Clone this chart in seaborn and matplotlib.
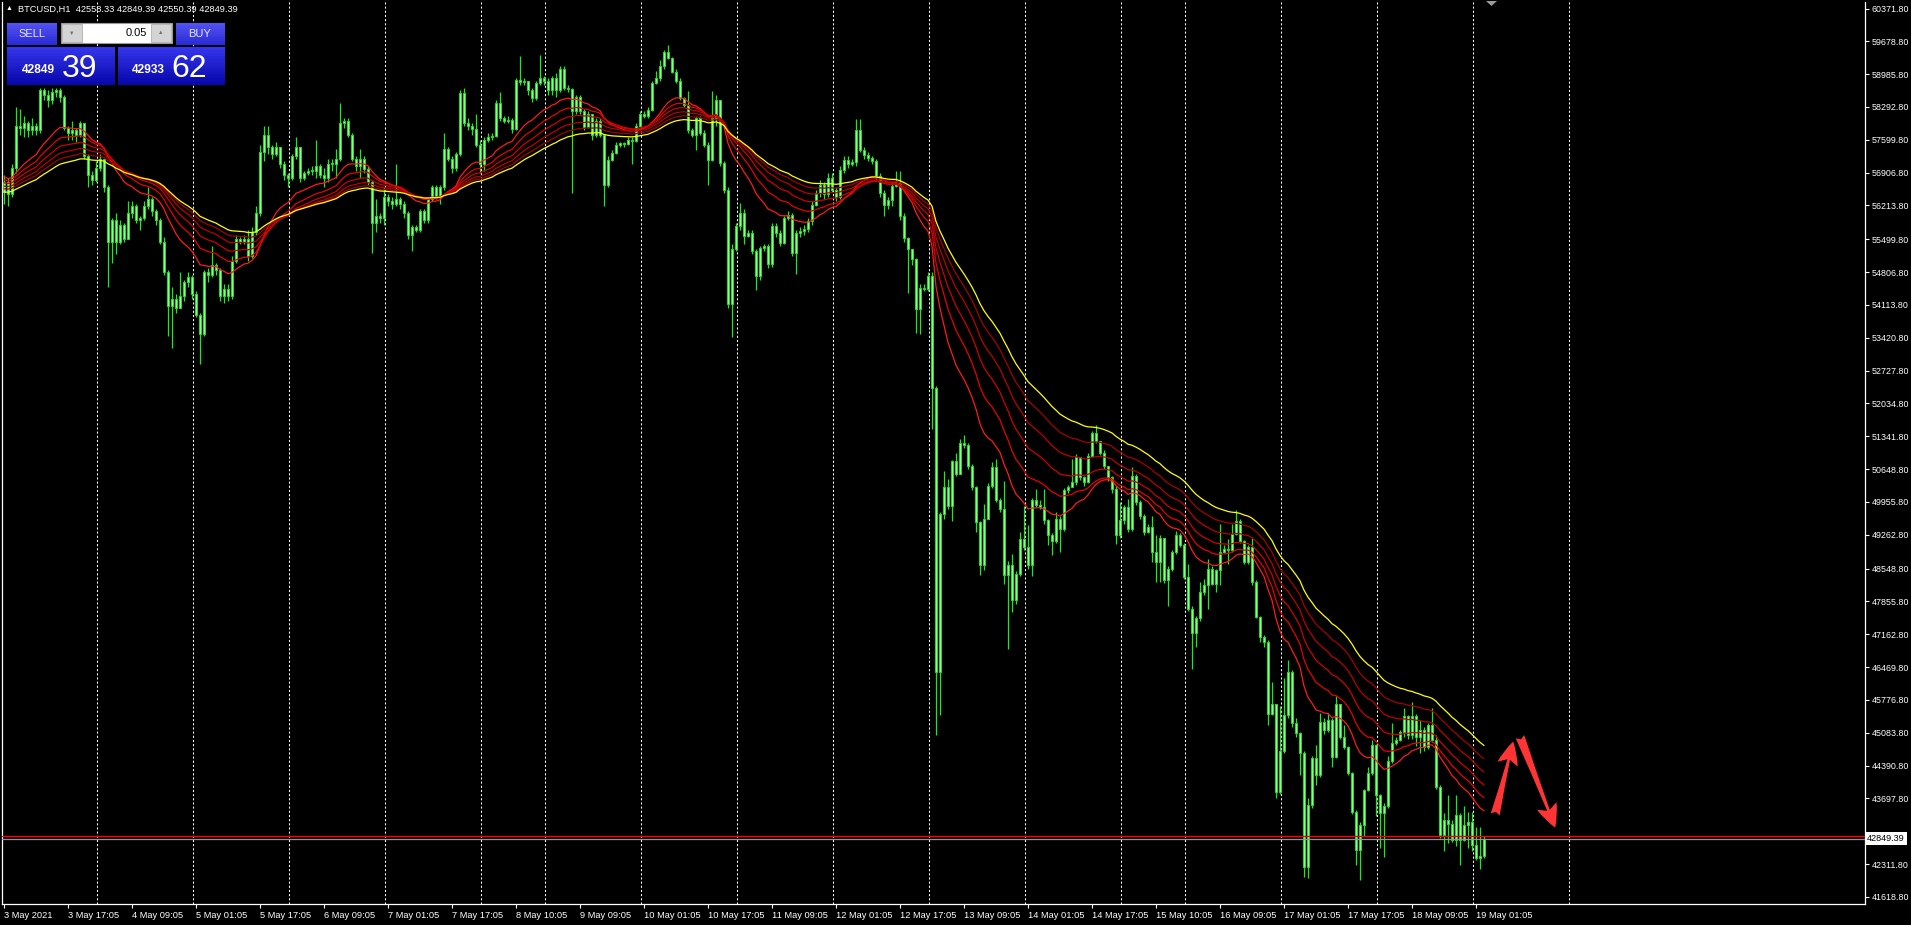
import numpy as np
import pandas as pd
import matplotlib
matplotlib.use("Agg")
import matplotlib.pyplot as plt
import matplotlib.transforms as mtransforms
import seaborn as sns
from matplotlib.patches import Rectangle, Polygon

# BTCUSD H1, 3 May 2021 -> 19 May 2021, one value per hourly bar
first_open = 56500

close = [
    56700, 56450, 57000, 57900, 57850, 57950, 57800, 57900, 57800, 58650,
    58550, 58450, 58600, 58650, 58500, 57850, 57750, 57800, 57700, 57950,
    57250, 56850, 56750, 57000, 57200, 56600, 55450, 55900, 55450, 55800,
    55500, 56050, 56200, 55900, 55950, 56200, 56350, 56100, 55900, 55450,
    54800, 54100, 54250, 54050, 54300, 54600, 54700, 54350, 53900, 53500,
    54800, 54750, 54950, 54850, 54300, 54450, 54300, 55050, 55500, 55450,
    55500, 55150, 55650, 56050, 57350, 57700, 57450, 57300, 57450, 57100,
    56850, 56800, 57250, 57450, 56800, 56900, 56950, 56950, 57050, 56850,
    56800, 57100, 57100, 57200, 57950, 58000, 57700, 57200, 57050, 57200,
    56980, 56700, 55850, 56000, 55950, 56400, 56300, 56250, 56350, 56250,
    56050, 55600, 55750, 55700, 56100, 55900, 56350, 56600, 56400, 56600,
    57400, 57200, 57000, 57300, 58580, 57950, 57900, 57820, 57500, 57080,
    57600, 57650, 57680, 58380, 58050, 58000, 58020, 57820, 58860, 58820,
    58850, 58650, 58480, 58800, 58900, 58850, 58650, 58900, 58650, 59100,
    58700, 58680, 58200, 58500, 58200, 57880, 58150, 57700, 58000, 57700,
    56650, 57180, 57330, 57500, 57530, 57520, 57600, 57570, 57900, 58150,
    58100, 58230, 58800, 58900, 59150, 59460, 59320, 59040, 58850, 58480,
    58340, 57810, 57710, 58060, 57750, 57500, 57180, 58050, 58440, 57110,
    56550, 54130, 55300, 55780, 56050, 55570, 55640, 55250, 54720, 55320,
    55360, 54970, 55780, 55640, 55430, 55950, 56020, 55220, 55640, 55670,
    55710, 55880, 56230, 56480, 56650, 56450, 56800, 56550, 56400, 56970,
    57180, 57080, 57130, 57810, 57390, 57290, 57220, 57150, 56830, 56480,
    56230, 56340, 56620, 56690, 55990, 55530, 55290, 55080, 54020, 54480,
    54450, 54720, 52370, 46370, 49700, 50270, 49880, 50830, 50550, 51210,
    51150, 50720, 50270, 49530, 48620, 49600, 50300, 50690, 49990, 49810,
    48420, 48620, 47880, 48440, 49180, 49000, 48620, 49990, 49900, 49860,
    49570, 49250, 49140, 49600, 49390, 50200, 50270, 50370, 50900, 50480,
    50370, 50930, 51420, 51250, 51000, 50720, 50480, 50230, 49250, 49570,
    49840, 49390, 50510, 49950, 49670, 49320, 49420, 48900, 48690, 49190,
    48300, 48550, 48900, 49250, 49040, 48370, 47700, 47180, 47500, 48060,
    48200, 48550, 48230, 48510, 48900, 48970, 48950, 49280, 49560, 49140,
    48690, 49000, 48270, 47530, 47110, 47000, 45490, 45700, 43840, 44690,
    45460, 46370, 45280, 45070, 44650, 42260, 43560, 44550, 44190, 45320,
    45140, 45350, 44580, 45700, 45000, 44790, 44230, 43420, 42620, 43140,
    43880, 44230, 44830, 43770, 43390, 43530, 44480, 44860, 44930, 45110,
    45430, 45040, 45430, 45000, 45150, 44780, 45250, 44930, 43950, 42930,
    43250, 43150, 42830, 43350, 42830, 43140, 43210, 42720, 42440, 42480,
    42849.39,
]

high = [
    56850, 56800, 57100, 58300, 58250, 58100, 58000, 58050, 57950, 58700,
    58700, 58650, 58700, 58700, 58700, 58550, 57900, 58000, 57850, 58000,
    57950, 57300, 56950, 57150, 57300, 57200, 56650, 55950, 56050, 55900,
    55850, 56300, 56300, 56250, 56000, 56300, 56600, 56400, 56150, 55950,
    55550, 54850, 54500, 54350, 54800, 54650, 54800, 54750, 54400, 53950,
    54850, 54900, 55350, 55000, 54900, 54550, 54550, 55150, 55600, 55550,
    55600, 55700, 55750, 56200, 57500, 57900, 57900, 57500, 57550, 57450,
    57150, 56900, 57300, 57650, 57450, 56950, 57000, 57050, 57600, 57100,
    57000, 57200, 57200, 57400, 58380, 58050, 58050, 57750, 57250, 57400,
    57250, 57050, 56750, 56350, 56050, 56600, 56450, 56400, 57080, 56400,
    56300, 56100, 55800, 55800, 56150, 56150, 56400, 56650, 56650, 56650,
    57750, 57450, 57250, 57350, 58650, 58700, 58050, 57950, 58150, 57600,
    57650, 57750, 57750, 58450, 58600, 58100, 58100, 58050, 58900, 59360,
    58900, 58850, 58700, 58850, 59400, 58950, 58900, 58950, 59000, 59150,
    59150, 58750, 58700, 58550, 58550, 58250, 58200, 58150, 58050, 58050,
    57700, 57250, 57380, 57550, 57560, 57560, 57650, 57650, 57950, 58200,
    58200, 58300, 58850, 59050, 59290, 59500, 59600, 59350, 59100, 58900,
    58500, 58620, 57850, 58100, 58100, 57800, 57550, 58620, 58550, 58450,
    57150, 56600, 55400, 55850, 56270, 56150, 55700, 55700, 55300, 55350,
    55400, 55400, 55850, 55850, 55700, 56000, 56100, 56050, 55700, 55750,
    55800, 55950, 56300, 56550, 56750, 56700, 56900, 56900, 56600, 57050,
    57250, 57250, 57200, 58030, 58030, 57450, 57350, 57250, 57200, 56900,
    56550, 56400, 56700, 56950, 56940, 56050, 55550, 55300, 55100, 54550,
    54550, 54800, 54800, 52400, 49750, 50620, 50440, 50850, 51000, 51290,
    51360, 51200, 50750, 50300, 49550, 49920, 50350, 50790, 50860, 50050,
    50400, 48700, 48860, 48500, 49320, 49880, 49460, 50050, 50230, 49990,
    50230, 49600, 49300, 49740, 49650, 50250, 50320, 50860, 50970, 50900,
    50500, 50980, 51460, 51570, 51250, 51050, 50720, 50500, 50300, 49950,
    49900, 50020, 50690, 50550, 50000, 49700, 49500, 49660, 49250, 49250,
    49200, 48600, 48950, 49350, 49300, 49100, 48650, 47750, 47550, 48270,
    48340, 48760, 48600, 48550, 49500, 49050, 49180, 49500, 49780, 49600,
    49150, 49050, 49200, 48300, 47550, 47150, 47050, 46160, 45700, 45650,
    46230, 46620, 46400, 45390, 45100, 44700, 43700, 44600, 44830, 45500,
    45400, 45500, 45400, 45850, 45700, 45250, 44800, 44250, 43450, 43200,
    43900, 44370, 44930, 44850, 43800, 43600, 44600, 45290, 45000, 45150,
    45600, 45450, 45740, 45480, 45350, 45200, 45300, 45600, 45040, 43980,
    43390, 43770, 43250, 43770, 43400, 43530, 43420, 43420, 43100, 43100,
    42900,
]

low = [
    56250, 56200, 56400, 56900, 57700, 57650, 57650, 57700, 57700, 57750,
    58450, 58300, 58350, 58500, 58400, 57800, 57600, 57600, 57550, 57650,
    57200, 56600, 56650, 56700, 56950, 56500, 54500, 55000, 55200, 55400,
    55450, 55500, 55950, 55850, 55700, 55900, 56150, 56000, 55800, 55400,
    54750, 53450, 53200, 53950, 54150, 54200, 54500, 54250, 53850, 52870,
    53450, 54600, 54700, 54750, 54200, 54150, 54200, 54250, 55000, 55400,
    55400, 55050, 55100, 55600, 56000, 57150, 57300, 57200, 57250, 57000,
    56750, 56600, 56750, 57200, 56700, 56750, 56850, 56850, 56800, 56800,
    56600, 56700, 56950, 56800, 57150, 57850, 57650, 57150, 56950, 56800,
    56900, 56650, 55220, 55650, 55850, 55800, 56200, 56150, 56200, 56150,
    55950, 55500, 55250, 55650, 55650, 55850, 55850, 56300, 56350, 56250,
    56550, 57150, 56900, 56950, 57250, 57900, 57800, 57700, 57450, 56900,
    56950, 57550, 57600, 57650, 58000, 57950, 57950, 57750, 57800, 58750,
    58750, 58550, 58400, 58450, 58750, 58750, 58550, 58550, 58500, 58600,
    58650, 58600, 56480, 58150, 58150, 57800, 57850, 57600, 57650, 57650,
    56200, 56600, 57150, 57300, 57450, 57450, 57500, 57100, 57550, 57850,
    58050, 58050, 58200, 58780, 58850, 59100, 59300, 59000, 58800, 58450,
    58300, 57750, 57650, 57390, 57700, 57450, 56650, 57150, 57900, 57050,
    56480, 54050, 53430, 55250, 55700, 55400, 55550, 55200, 54440, 54650,
    55250, 54900, 54920, 55550, 55350, 55400, 55900, 55150, 54760, 55550,
    55600, 55650, 55800, 56200, 56400, 56350, 56400, 56500, 56300, 56350,
    56900, 57000, 57050, 57050, 57350, 57200, 57150, 57100, 56750, 56400,
    56000, 56150, 56200, 56600, 55900, 55450, 54370, 54950, 53530, 53500,
    54400, 54400, 51500, 45040, 45460, 49600, 49800, 49550, 50500, 50550,
    51100, 50650, 50200, 49320, 48410, 48510, 49600, 50250, 49950, 49750,
    48230, 46860, 47630, 47800, 48400, 48950, 48550, 48400, 49850, 49800,
    49500, 49040, 48830, 49100, 48900, 49350, 50150, 50300, 50320, 50420,
    50300, 50350, 50900, 51200, 50950, 50650, 50400, 50150, 49070, 49200,
    49500, 49320, 49350, 49900, 49600, 49250, 49300, 48690, 48270, 48270,
    48250, 47770, 48500, 48850, 49000, 48340, 47650, 46440, 46900, 47450,
    48000, 47700, 48200, 48050, 48200, 48880, 48650, 48900, 49250, 49100,
    48650, 48650, 48200, 47500, 47000, 46900, 45250, 45450, 43700, 43800,
    44650, 45400, 45200, 45000, 44190, 42050, 42020, 43500, 43980, 44150,
    45050, 45100, 44370, 44550, 44950, 44750, 44200, 43380, 42300, 41980,
    42900, 43850, 44200, 43320, 42650, 42470, 43500, 44450, 44830, 44900,
    45000, 44950, 44950, 44800, 44650, 44700, 44750, 44880, 43900, 42860,
    42580, 42750, 42780, 42690, 42300, 42800, 42650, 42580, 42400, 42200,
    42450,
]

# moving-average ribbon: periods, level at the left edge, colours
ema_periods = [20, 28, 36, 44, 52, 60]
ema_start = [56830, 56760, 56690, 56620, 56560, 56490]
ema_colors = ["#ff1a1a", "#e80000", "#d00000", "#bb0000", "#a50000", "#ffff00"]

time_labels = [
    "3 May 2021", "3 May 17:05", "4 May 09:05", "5 May 01:05", "5 May 17:05",
    "6 May 09:05", "7 May 01:05", "7 May 17:05", "8 May 10:05", "9 May 09:05",
    "10 May 01:05", "10 May 17:05", "11 May 09:05", "12 May 01:05", "12 May 17:05",
    "13 May 09:05", "14 May 01:05", "14 May 17:05", "15 May 10:05", "16 May 09:05",
    "17 May 01:05", "17 May 17:05", "18 May 09:05", "19 May 01:05",
]
label_every = 16
day_bars = [24, 48, 72, 96, 120, 136, 160, 184, 208, 232, 256, 280, 296, 320, 344, 368, 392]

price_ticks = [
    60371.80, 59678.80, 58985.80, 58292.80, 57599.80, 56906.80, 56213.80, 55499.80,
    54806.80, 54113.80, 53420.80, 52727.80, 52034.80, 51341.80, 50648.80, 49955.80,
    49262.80, 48548.80, 47855.80, 47162.80, 46469.80, 45776.80, 45083.80, 44390.80,
    43697.80, 42311.80, 41618.80,
]
bid = 42849.39
red_level = 42915

symbol_line = "BTCUSD,H1  42558.33 42849.39 42550.39 42849.39"
sell_big, sell_pips = "42849", "39"
buy_big, buy_pips = "42933", "62"
lot = "0.05"

# hand-drawn arrows (bar, price): tail -> tip
arrow_up = [(372.8, 43360), (377.3, 44900)]
arrow_down = [(379.0, 45000), (387.8, 43080)]

W, H = 1911, 925
sns.set_theme(style="dark", rc={"axes.facecolor": "black", "figure.facecolor": "black"})
plt.rcParams["font.family"] = ["Liberation Sans", "DejaVu Sans"]

fig = plt.figure(figsize=(W / 100, H / 100), dpi=100, facecolor="black")
ax = fig.add_axes([2 / W, 21 / H, 1863 / W, 902 / H])
ax.set_facecolor("black")

n = len(close)
bars = np.arange(n)
c = np.array(close, dtype=float)
o = np.concatenate([[first_open], c[:-1]])
hi = np.maximum(np.array(high, dtype=float), np.maximum(o, c))
lo = np.minimum(np.array(low, dtype=float), np.minimum(o, c))

# day separators
for b in day_bars:
    ax.axvline(b - 0.8, color="white", lw=0.75, ls=(0, (2, 2)), zorder=1)

# candles
ax.vlines(bars, lo, hi, color="#1ee81e", lw=0.9, zorder=2)
body_lo = np.minimum(o, c)
body_h = np.maximum(np.abs(c - o), 18)
ax.bar(bars, body_h, bottom=body_lo, width=0.64, color="#9af59a",
       edgecolor="#22e022", linewidth=0.7, zorder=3)

# EMA ribbon
frames = []
for p, s0 in zip(ema_periods, ema_start):
    e = pd.Series([s0] + list(c)).ewm(span=p, adjust=False).mean().to_numpy()[1:]
    frames.append(pd.DataFrame({"bar": bars, "value": e, "line": f"EMA{p}"}))
ribbon = pd.concat(frames, ignore_index=True)
pal = {f"EMA{p}": col for p, col in zip(ema_periods, ema_colors)}
sns.lineplot(data=ribbon, x="bar", y="value", hue="line", palette=pal,
             linewidth=0.9, legend=False, estimator=None, sort=False, ax=ax, zorder=4)

# price lines
ax.axhline(bid, color="#8a94a6", lw=0.9, zorder=5)
ax.axhline(red_level, color="#ff0000", lw=1.0, zorder=5)

# arrows
for tail, tip in (arrow_up, arrow_down):
    ax.annotate("", xy=tip, xytext=tail,
                arrowprops=dict(arrowstyle="fancy,head_length=1.4,head_width=1.25,tail_width=0.55",
                                fc="#ff3535", ec="none", mutation_scale=12,
                                shrinkA=0, shrinkB=0), zorder=6)

ax.set_xlim(-0.5, 465.25)
ax.set_ylim(41470, 60509)
ax.set_xlabel("")
ax.set_ylabel("")
ax.grid(False)

ax.yaxis.tick_right()
ax.set_yticks(price_ticks)
ax.set_yticklabels([f"{v:.2f}" for v in price_ticks])
ax.tick_params(axis="y", colors="white", labelsize=6.4, length=3, width=0.8, pad=2,
               direction="out", right=True, left=False)
ax.set_xticks(np.arange(len(time_labels)) * label_every)
ax.set_xticklabels(time_labels)
for lab in ax.get_xticklabels():
    lab.set_horizontalalignment("left")
ax.tick_params(axis="x", colors="white", labelsize=6.7, length=3, width=0.8, pad=2,
               direction="out", bottom=True)
for side in ("left", "bottom", "right"):
    ax.spines[side].set_color("white")
    ax.spines[side].set_linewidth(0.9)
    ax.spines[side].set_visible(True)
ax.spines["top"].set_visible(False)

# bid price box on the price scale
trans = mtransforms.blended_transform_factory(ax.transAxes, ax.transData)
ax.text(1.0 + 2 / 1863, bid, f"{bid:.2f}", transform=trans, ha="left", va="center",
        fontsize=6.6, color="black", clip_on=False, zorder=7,
        bbox=dict(boxstyle="square,pad=0.22", fc="white", ec="none"))


# ---- one-click trading panel & header (figure pixel coordinates) ----
def fx(x):
    return x / W


def fy(y):
    return 1 - y / H


def box(x0, y0, x1, y1, top, bottom, steps=12):
    ct = np.array(matplotlib.colors.to_rgb(top))
    cb = np.array(matplotlib.colors.to_rgb(bottom))
    hstep = (y1 - y0) / steps
    for k in range(steps):
        col = ct + (cb - ct) * k / (steps - 1)
        fig.add_artist(Rectangle((fx(x0), fy(y0 + (k + 1) * hstep)), (x1 - x0) / W,
                                 hstep / H + 0.3 / H, transform=fig.transFigure,
                                 fc=col, ec="none", zorder=10))


fig.text(fx(6), fy(9), "▲", color="white", fontsize=5, va="center", zorder=11)
fig.text(fx(18), fy(9), symbol_line, color="white", fontsize=6.7, va="center", zorder=11)

box(7, 23, 57, 45, "#5252f2", "#2c2cd6")
box(176, 23, 225, 45, "#5252f2", "#2c2cd6")
box(7, 47, 115, 85, "#3434ec", "#0808ac")
box(118, 47, 225, 85, "#3434ec", "#0808ac")
fig.add_artist(Rectangle((fx(61), fy(43)), 111 / W, 20 / H, transform=fig.transFigure,
                         fc="white", ec="#9a9a9a", lw=0.8, zorder=10))
for bx0 in (62, 151):
    fig.add_artist(Rectangle((fx(bx0), fy(42)), 20 / W, 18 / H, transform=fig.transFigure,
                             fc="#d4d4d4", ec="#b0b0b0", lw=0.6, zorder=11))
fig.text(fx(72), fy(33), "▼", color="#707070", fontsize=4, ha="center", va="center", zorder=12)
fig.text(fx(161), fy(33), "▲", color="#707070", fontsize=4, ha="center", va="center", zorder=12)
fig.text(fx(147), fy(33), lot, color="black", fontsize=8, ha="right", va="center", zorder=12)
fig.text(fx(32), fy(34), "SELL", color="#e6e6ff", fontsize=8, ha="center", va="center", zorder=12)
fig.text(fx(200), fy(34), "BUY", color="#e6e6ff", fontsize=8, ha="center", va="center", zorder=12)
fig.text(fx(22), fy(73), sell_big, color="white", fontsize=8.6, fontweight="bold",
         va="baseline", zorder=12)
fig.text(fx(62), fy(77), sell_pips, color="white", fontsize=23, va="baseline", zorder=12)
fig.text(fx(132), fy(73), buy_big, color="white", fontsize=8.6, fontweight="bold",
         va="baseline", zorder=12)
fig.text(fx(171), fy(77), buy_pips, color="white", fontsize=23, va="baseline", zorder=12)

# chart shift marker
fig.add_artist(Polygon([(fx(1486), fy(1)), (fx(1497), fy(1)), (fx(1491.5), fy(6))],
                       closed=True, transform=fig.transFigure, fc="#9a9a9a", ec="none", zorder=10))

fig.savefig("out.png", dpi=100, facecolor="black")
